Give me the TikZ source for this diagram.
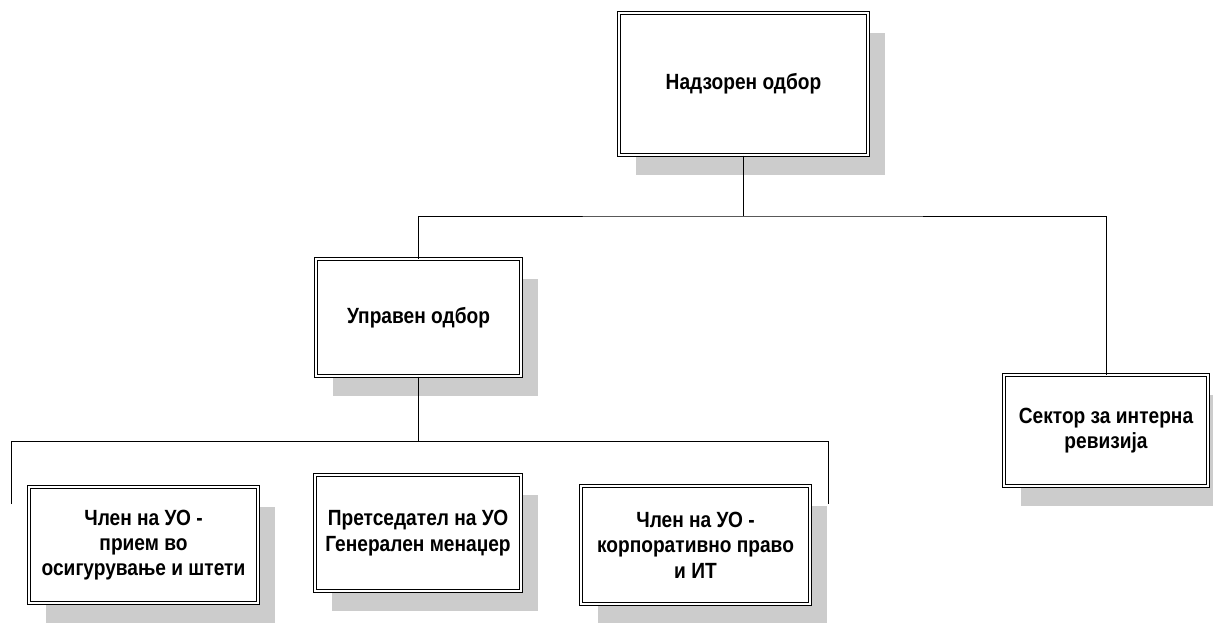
\documentclass[tikz,border=0pt]{standalone}
\usepackage{fontspec}
\setmainfont{Liberation Sans}[FakeStretch=0.87]
\usetikzlibrary{shadows}
\definecolor{senka}{RGB}{204,204,204}
\begin{document}
\begin{tikzpicture}[
        x=0.75pt, y=-0.75pt, % px od gorniot lev agol
        line width=0.75pt,
        linija/.style = {draw, line width=0.75pt},
        post/.style = {rectangle, draw, double, double distance=1.5pt, fill=white,
            align=center, inner sep=2pt, font=\bfseries\fontsize{16.5}{19}\selectfont,
            drop shadow={shadow xshift=12.75pt, shadow yshift=-15pt, fill=senka, opacity=1}}, % kutija so senka
    ]
    \useasboundingbox (0,0) rectangle (1213,622);

    \node[post, minimum width=186.75pt, minimum height=106.5pt] (nadzor) at (743.5,84) {Надзорен одбор};
    \node[post, minimum width=153.75pt, minimum height=87.75pt] (upraven) at (418.5,317.5) {Управен одбор};
    \node[post, minimum width=153pt, minimum height=83.25pt] (sektor) at (1106,430.5) {Сектор за интерна\\ревизија};
    \node[post, minimum width=171.75pt, minimum height=87pt] (clen1) at (143.5,545) {Член на УО -\\прием во\\осигурување и штети};
    \node[post, minimum width=154.5pt, minimum height=87pt] (pretsedatel) at (418,533) {Претседател на УО\\Генерален менаџер};
    \node[post, minimum width=171.75pt, minimum height=88.5pt] (clen2) at (695.5,545) {Член на УО -\\корпоративно право\\и ИТ};

    \coordinate (gore) at (nadzor.south |- 0,216);
    \coordinate (dole) at (upraven.south |- 0,441);
    \coordinate (levkraj) at (11,504);
    \coordinate (desenkraj) at (828,504);

    \draw[linija] (nadzor.south) -- (gore);
    \draw[linija] (upraven.north) |- (gore) -| (sektor.north);
    \draw[linija] (upraven.south) -- (dole);
    \draw[linija] (levkraj) |- (dole) -| (desenkraj);
\end{tikzpicture}
\end{document}
